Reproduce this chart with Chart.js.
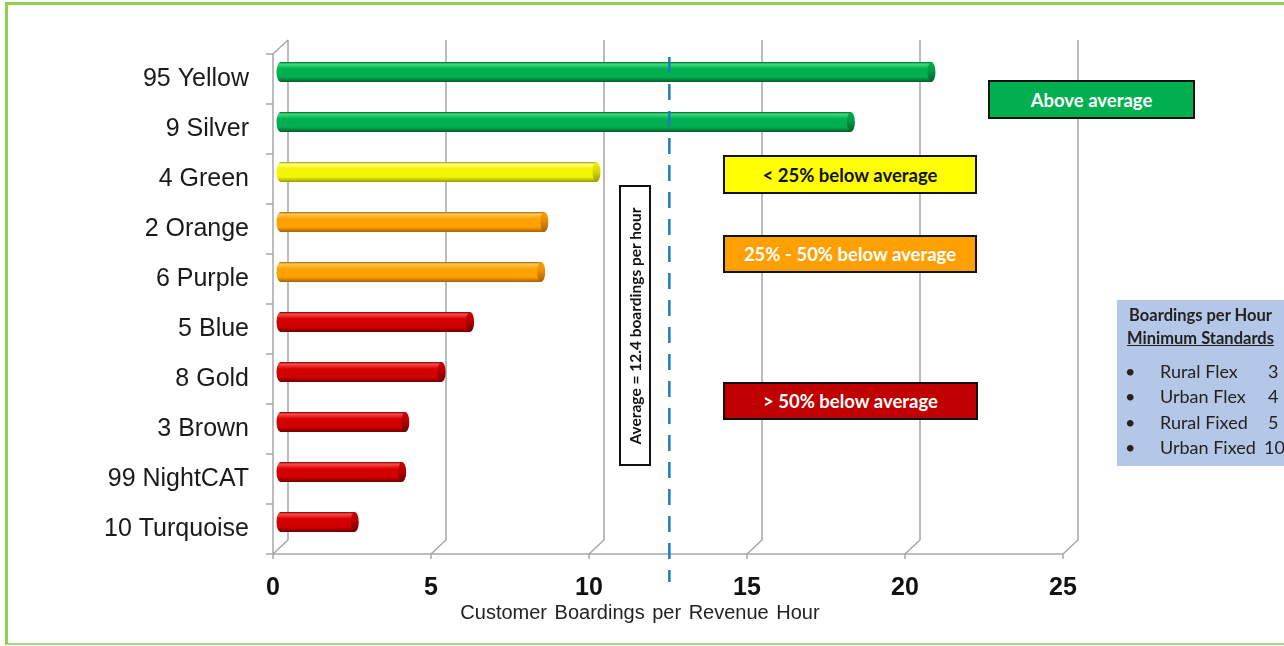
<!DOCTYPE html>
<html lang="en">
<head>
<meta charset="UTF-8">
<title>Customer Boardings per Revenue Hour</title>
<script src="https://cdn.jsdelivr.net/npm/chart.js@4"></script>
<style>
  html, body { margin: 0; padding: 0; background: #fff; }
  body { width: 1284px; height: 646px; position: relative; overflow: hidden; font-family: 'Liberation Sans', Arial, sans-serif; }
  #wrap { position: absolute; left: 0; top: 0; width: 1284px; height: 646px; }
  .frame { position: absolute; left: 5px; top: 2px; width: 1290px; height: 638px;
    border-left: 3px solid #92d050; border-top: 3px solid #92d050; border-bottom: 2px solid #a9dc78; }
  .note { position: absolute; box-sizing: border-box; border: 2px solid #111; font-family: Lato, 'Open Sans', sans-serif;
    font-weight: bold; font-size: 18.5px; display: flex; align-items: center; justify-content: center; }
  .avg { position: absolute; left: 619px; top: 185px; width: 32px; height: 281px; box-sizing: border-box;
    border: 2px solid #111; background: #fff; }
  .avg span { position: absolute; left: 50%; top: 50%; transform: translate(-50%, -50%) rotate(-90deg);
    white-space: nowrap; font-family: Lato, sans-serif; font-weight: bold; font-size: 15.5px; color: #111; }
  .axis-title { position: absolute; left: 440px; width: 400px; top: 601px; text-align: center; font-size: 20px; color: #222; word-spacing: 2px; }
  .stds { position: absolute; left: 1117px; top: 300px; width: 180px; height: 166px; background: #b4c7e7;
    font-family: Lato, 'Open Sans', sans-serif; color: #222; }
  .stds .h { position: absolute; left: 0; width: 167px; text-align: center; font-weight: bold; font-size: 16.5px; }
  .stds .row { position: absolute; left: 0; font-size: 18px; }
  .stds .row b { position: absolute; left: 8px; font-weight: normal; }
  .stds .row i { position: absolute; left: 43px; font-style: normal; white-space: nowrap; }
  .stds .row em { position: absolute; font-style: normal; }
</style>
</head>
<body>
<div id="wrap"><canvas id="chart"></canvas></div>
<div class="frame"></div>
<div class="axis-title">Customer Boardings per Revenue Hour</div>
<div class="avg"><span>Average = 12.4 boardings per hour</span></div>
<div class="note" style="left:988px;top:80px;width:207px;height:39px;background:#00b050;color:#fff;">Above average</div>
<div class="note" style="left:723px;top:155px;width:254px;height:39px;background:#ffff00;color:#111;">&lt; 25% below average</div>
<div class="note" style="left:723px;top:235px;width:254px;height:38px;background:#ffa000;color:#fff;">25% - 50% below average</div>
<div class="note" style="left:723px;top:382px;width:255px;height:38px;background:#c00000;color:#fff;">&gt; 50% below average</div>
<div class="stds">
  <div class="h" style="top:5px;">Boardings per Hour</div>
  <div class="h" style="top:28px;text-decoration:underline;">Minimum Standards</div>
  <div class="row" style="top:60px;"><b>&bull;</b><i>Rural Flex</i><em style="left:151px;">3</em></div>
  <div class="row" style="top:85px;"><b>&bull;</b><i>Urban Flex</i><em style="left:151px;">4</em></div>
  <div class="row" style="top:111px;"><b>&bull;</b><i>Rural Fixed</i><em style="left:151px;">5</em></div>
  <div class="row" style="top:136px;"><b>&bull;</b><i>Urban Fixed</i><em style="left:147px;">10</em></div>
</div>
<script>
const routes = ['95 Yellow', '9 Silver', '4 Green', '2 Orange', '6 Purple', '5 Blue', '8 Gold', '3 Brown', '99 NightCAT', '10 Turquoise'];
const boardings = [20.6, 18.05, 10.0, 8.35, 8.25, 6.0, 5.1, 3.95, 3.85, 2.35];
const tiers = ['above', 'above', 'under25', 'under50', 'under50', 'over50', 'over50', 'over50', 'over50', 'over50'];
const xTicks = [0, 5, 10, 15, 20, 25];
const averageBoardings = 12.4;

// light / base / dark / cap shades for each tier
const tierShades = {
  above:   ['#3ddc7c', '#00b050', '#005f28', '#00943f'],
  under25: ['#ffff8a', '#f5f500', '#9a9a00', '#d4d400'],
  under50: ['#ffc75a', '#ffa200', '#a86000', '#e08a00'],
  over50:  ['#ff4a4a', '#d40000', '#6e0000', '#b00000']
};

const DX = 15, DY = 14;   // depth of the 3D box

const box3d = {
  id: 'box3d',
  beforeDatasetsDraw(chart) {
    const { ctx, chartArea: a, scales } = chart;
    const xs = scales.x;
    ctx.save();
    ctx.strokeStyle = '#a6a6a6';
    ctx.lineWidth = 1.5;
    ctx.beginPath();
    // back wall gridlines + floor diagonals + tick marks
    xTicks.forEach(v => {
      const px = xs.getPixelForValue(v);
      ctx.moveTo(px + DX, a.top - DY);
      ctx.lineTo(px + DX, a.bottom - DY);
      ctx.lineTo(px, a.bottom);
      ctx.lineTo(px, a.bottom + 5);
    });
    // front floor edge
    ctx.moveTo(a.left, a.bottom);
    ctx.lineTo(xs.getPixelForValue(xTicks[xTicks.length - 1]), a.bottom);
    // left wall
    ctx.moveTo(a.left, a.bottom);
    ctx.lineTo(a.left, a.top);
    ctx.lineTo(a.left + DX, a.top - DY);
    // category tick marks
    for (let i = 0; i <= routes.length; i++) {
      const py = a.top + (a.bottom - a.top) * i / routes.length;
      ctx.moveTo(a.left - 7, py);
      ctx.lineTo(a.left, py);
    }
    ctx.stroke();
    ctx.restore();
    // bars sit half way back in the box
    ctx.save();
    ctx.translate(DX / 2, -DY / 2);
  },
  afterDatasetsDraw(chart) {
    const { ctx } = chart;
    const meta = chart.getDatasetMeta(0);
    meta.data.forEach((el, i) => {
      const { x, y, base, height } = el.getProps(['x', 'y', 'base', 'height'], true);
      const s = tierShades[tiers[i]];
      const t = y - height / 2, b = y + height / 2;
      const g = ctx.createLinearGradient(0, t, 0, b);
      g.addColorStop(0, s[2]);
      g.addColorStop(0.1, s[0]);
      g.addColorStop(0.35, s[1]);
      g.addColorStop(0.75, s[1]);
      g.addColorStop(1, s[2]);
      const rx = 4;
      ctx.fillStyle = g;
      ctx.fillRect(base, t, x - base, height);
      ctx.beginPath();
      ctx.ellipse(base, y, rx, height / 2, 0, 0, Math.PI * 2);
      ctx.fill();
      const gc = ctx.createLinearGradient(0, t, 0, b);
      gc.addColorStop(0, s[1]);
      gc.addColorStop(0.5, s[3]);
      gc.addColorStop(1, s[2]);
      ctx.fillStyle = gc;
      ctx.beginPath();
      ctx.ellipse(x, y, rx, height / 2, 0, 0, Math.PI * 2);
      ctx.fill();
    });
    // average line
    const ax = chart.scales.x.getPixelForValue(averageBoardings) - 3;
    ctx.strokeStyle = '#1f7bc4';
    ctx.lineWidth = 2.5;
    ctx.setLineDash([16, 11]);
    ctx.beginPath();
    ctx.moveTo(ax, chart.chartArea.top + 10);
    ctx.lineTo(ax, chart.chartArea.bottom + 35);
    ctx.stroke();
    ctx.setLineDash([]);
    ctx.restore();
  }
};

new Chart(document.getElementById('chart'), {
  type: 'bar',
  data: {
    labels: routes,
    datasets: [{
      data: boardings,
      backgroundColor: tiers.map(t => tierShades[t][1]),
      borderWidth: 0,
      barPercentage: 0.4,
      categoryPercentage: 1
    }]
  },
  options: {
    indexAxis: 'y',
    responsive: true,
    maintainAspectRatio: false,
    animation: false,
    layout: { padding: { top: 54, right: 221, left: 0, bottom: 0 } },
    plugins: { legend: { display: false }, tooltip: { enabled: false } },
    scales: {
      x: {
        min: 0, max: 25,
        afterBuildTicks: s => { s.ticks = xTicks.map(v => ({ value: v })); },
        afterFit: s => { s.height = 92; },
        grid: { display: false, drawTicks: false },
        border: { display: false },
        ticks: { padding: 19, color: '#111', font: { family: "'Liberation Sans', Arial", size: 25, weight: 'bold' } }
      },
      y: {
        afterFit: s => { s.width = 273; },
        grid: { display: false, drawTicks: false },
        border: { display: false },
        ticks: { padding: 24, color: '#1a1a1a', font: { family: "'Liberation Sans', Arial", size: 25 } }
      }
    }
  },
  plugins: [box3d]
});
</script>
</body>
</html>
